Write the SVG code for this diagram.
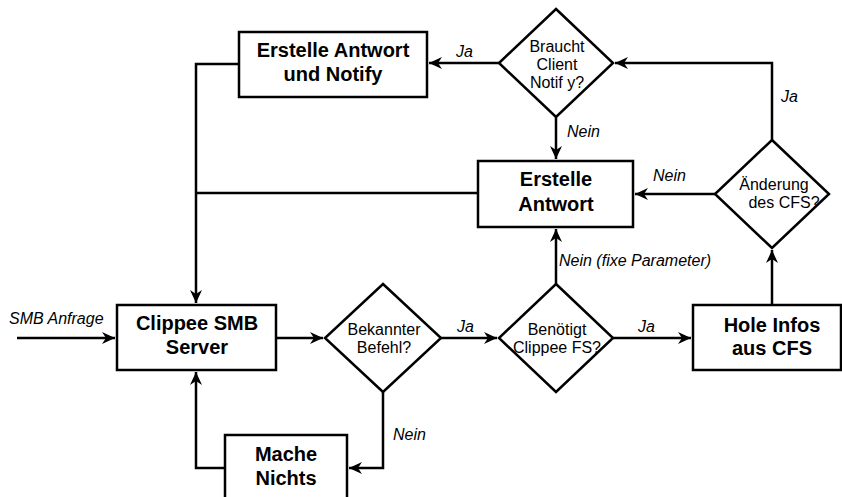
<svg xmlns="http://www.w3.org/2000/svg" width="842" height="497" viewBox="0 0 842 497">
<defs>
<marker id="arr" markerUnits="userSpaceOnUse" viewBox="-14 -7 15 14" markerWidth="15" markerHeight="14" refX="0" refY="0" orient="auto">
<path d="M-13,-6 L0,0 L-13,6 L-9,0 Z" fill="#000"/>
</marker>
</defs>
<style>
.box{fill:#fff;stroke:#000;stroke-width:2.5}
.bt{font-family:"Liberation Sans",Arial,sans-serif;font-weight:bold;font-size:20px;fill:#000;text-anchor:middle}
.dt{font-family:"Liberation Sans",Arial,sans-serif;font-size:16px;fill:#000;text-anchor:middle}
.lb{font-family:"Liberation Sans",Arial,sans-serif;font-style:italic;font-size:16px;fill:#000}
.ln{fill:none;stroke:#000;stroke-width:2.5}
.ar{marker-end:url(#arr)}
</style>
<rect width="842" height="497" fill="#fff"/>
<g id="connectors">
<path class="ln ar" d="M17,338 L115,338"/>
<path class="ln ar" d="M276,338 L323,338"/>
<path class="ln ar" d="M441,338 L497,338"/>
<path class="ln ar" d="M613,338 L691,338"/>
<path class="ln ar" d="M772,305 L772,250"/>
<path class="ln ar" d="M556,284 L556,229"/>
<path class="ln ar" d="M715,194 L635,194"/>
<path class="ln ar" d="M772,140 L772,63 L615,63"/>
<path class="ln ar" d="M499,63 L429,63"/>
<path class="ln ar" d="M556,117 L556,159"/>
<path class="ln ar" d="M239,64 L196,64 L196,303"/>
<path class="ln" d="M478,193 L196,193"/>
<path class="ln ar" d="M383,392 L383,468 L349,468"/>
<path class="ln ar" d="M225,468 L196,468 L196,372"/>
<text class="lb" x="9" y="324">SMB Anfrage</text>
<text class="lb" x="457" y="332">Ja</text>
<text class="lb" x="638" y="332">Ja</text>
<text class="lb" x="559" y="266">Nein (fixe Parameter)</text>
<text class="lb" x="393" y="440">Nein</text>
<text class="lb" x="653" y="181">Nein</text>
<text class="lb" x="781" y="102">Ja</text>
<text class="lb" x="567" y="137">Nein</text>
<text class="lb" x="456" y="57">Ja</text>
</g>
<g id="smb-server">
<rect class="box" x="117" y="305" width="159" height="65"/>
<text class="bt" x="197" y="330">Clippee SMB</text>
<text class="bt" x="197" y="354">Server</text>
</g>
<g id="bekannter-befehl">
<polygon class="box" points="383,284 441,338 383,392 325,338"/>
<text class="dt" x="384" y="335">Bekannter</text>
<text class="dt" x="384" y="353">Befehl?</text>
</g>
<g id="benoetigt-fs">
<polygon class="box" points="556,284 613,338 556,392 499,338"/>
<text class="dt" x="557" y="335">Benötigt</text>
<text class="dt" x="557" y="353">Clippee FS?</text>
</g>
<g id="hole-infos">
<rect class="box" x="693" y="305" width="148" height="65"/>
<text class="bt" x="772" y="332">Hole Infos</text>
<text class="bt" x="772" y="355">aus CFS</text>
</g>
<g id="mache-nichts">
<rect class="box" x="225" y="435" width="122" height="80"/>
<text class="bt" x="286" y="461">Mache</text>
<text class="bt" x="286" y="485">Nichts</text>
</g>
<g id="aenderung-cfs">
<polygon class="box" points="772,140 829,194 772,248 715,194"/>
<text class="dt" x="774" y="190">Änderung</text>
<text class="dt" x="784" y="208">des CFS?</text>
</g>
<g id="erstelle-antwort">
<rect class="box" x="478" y="161" width="155" height="66"/>
<text class="bt" x="556" y="186">Erstelle</text>
<text class="bt" x="556" y="211">Antwort</text>
</g>
<g id="braucht-notify">
<polygon class="box" points="556,9 613,63 556,117 499,63"/>
<text class="dt" x="557" y="52">Braucht</text>
<text class="dt" x="557" y="70">Client</text>
<text class="dt" x="557" y="88">Notif y?</text>
</g>
<g id="erstelle-notify">
<rect class="box" x="239" y="32" width="188" height="65"/>
<text class="bt" x="333" y="57">Erstelle Antwort</text>
<text class="bt" x="333" y="81">und Notify</text>
</g>
</svg>
